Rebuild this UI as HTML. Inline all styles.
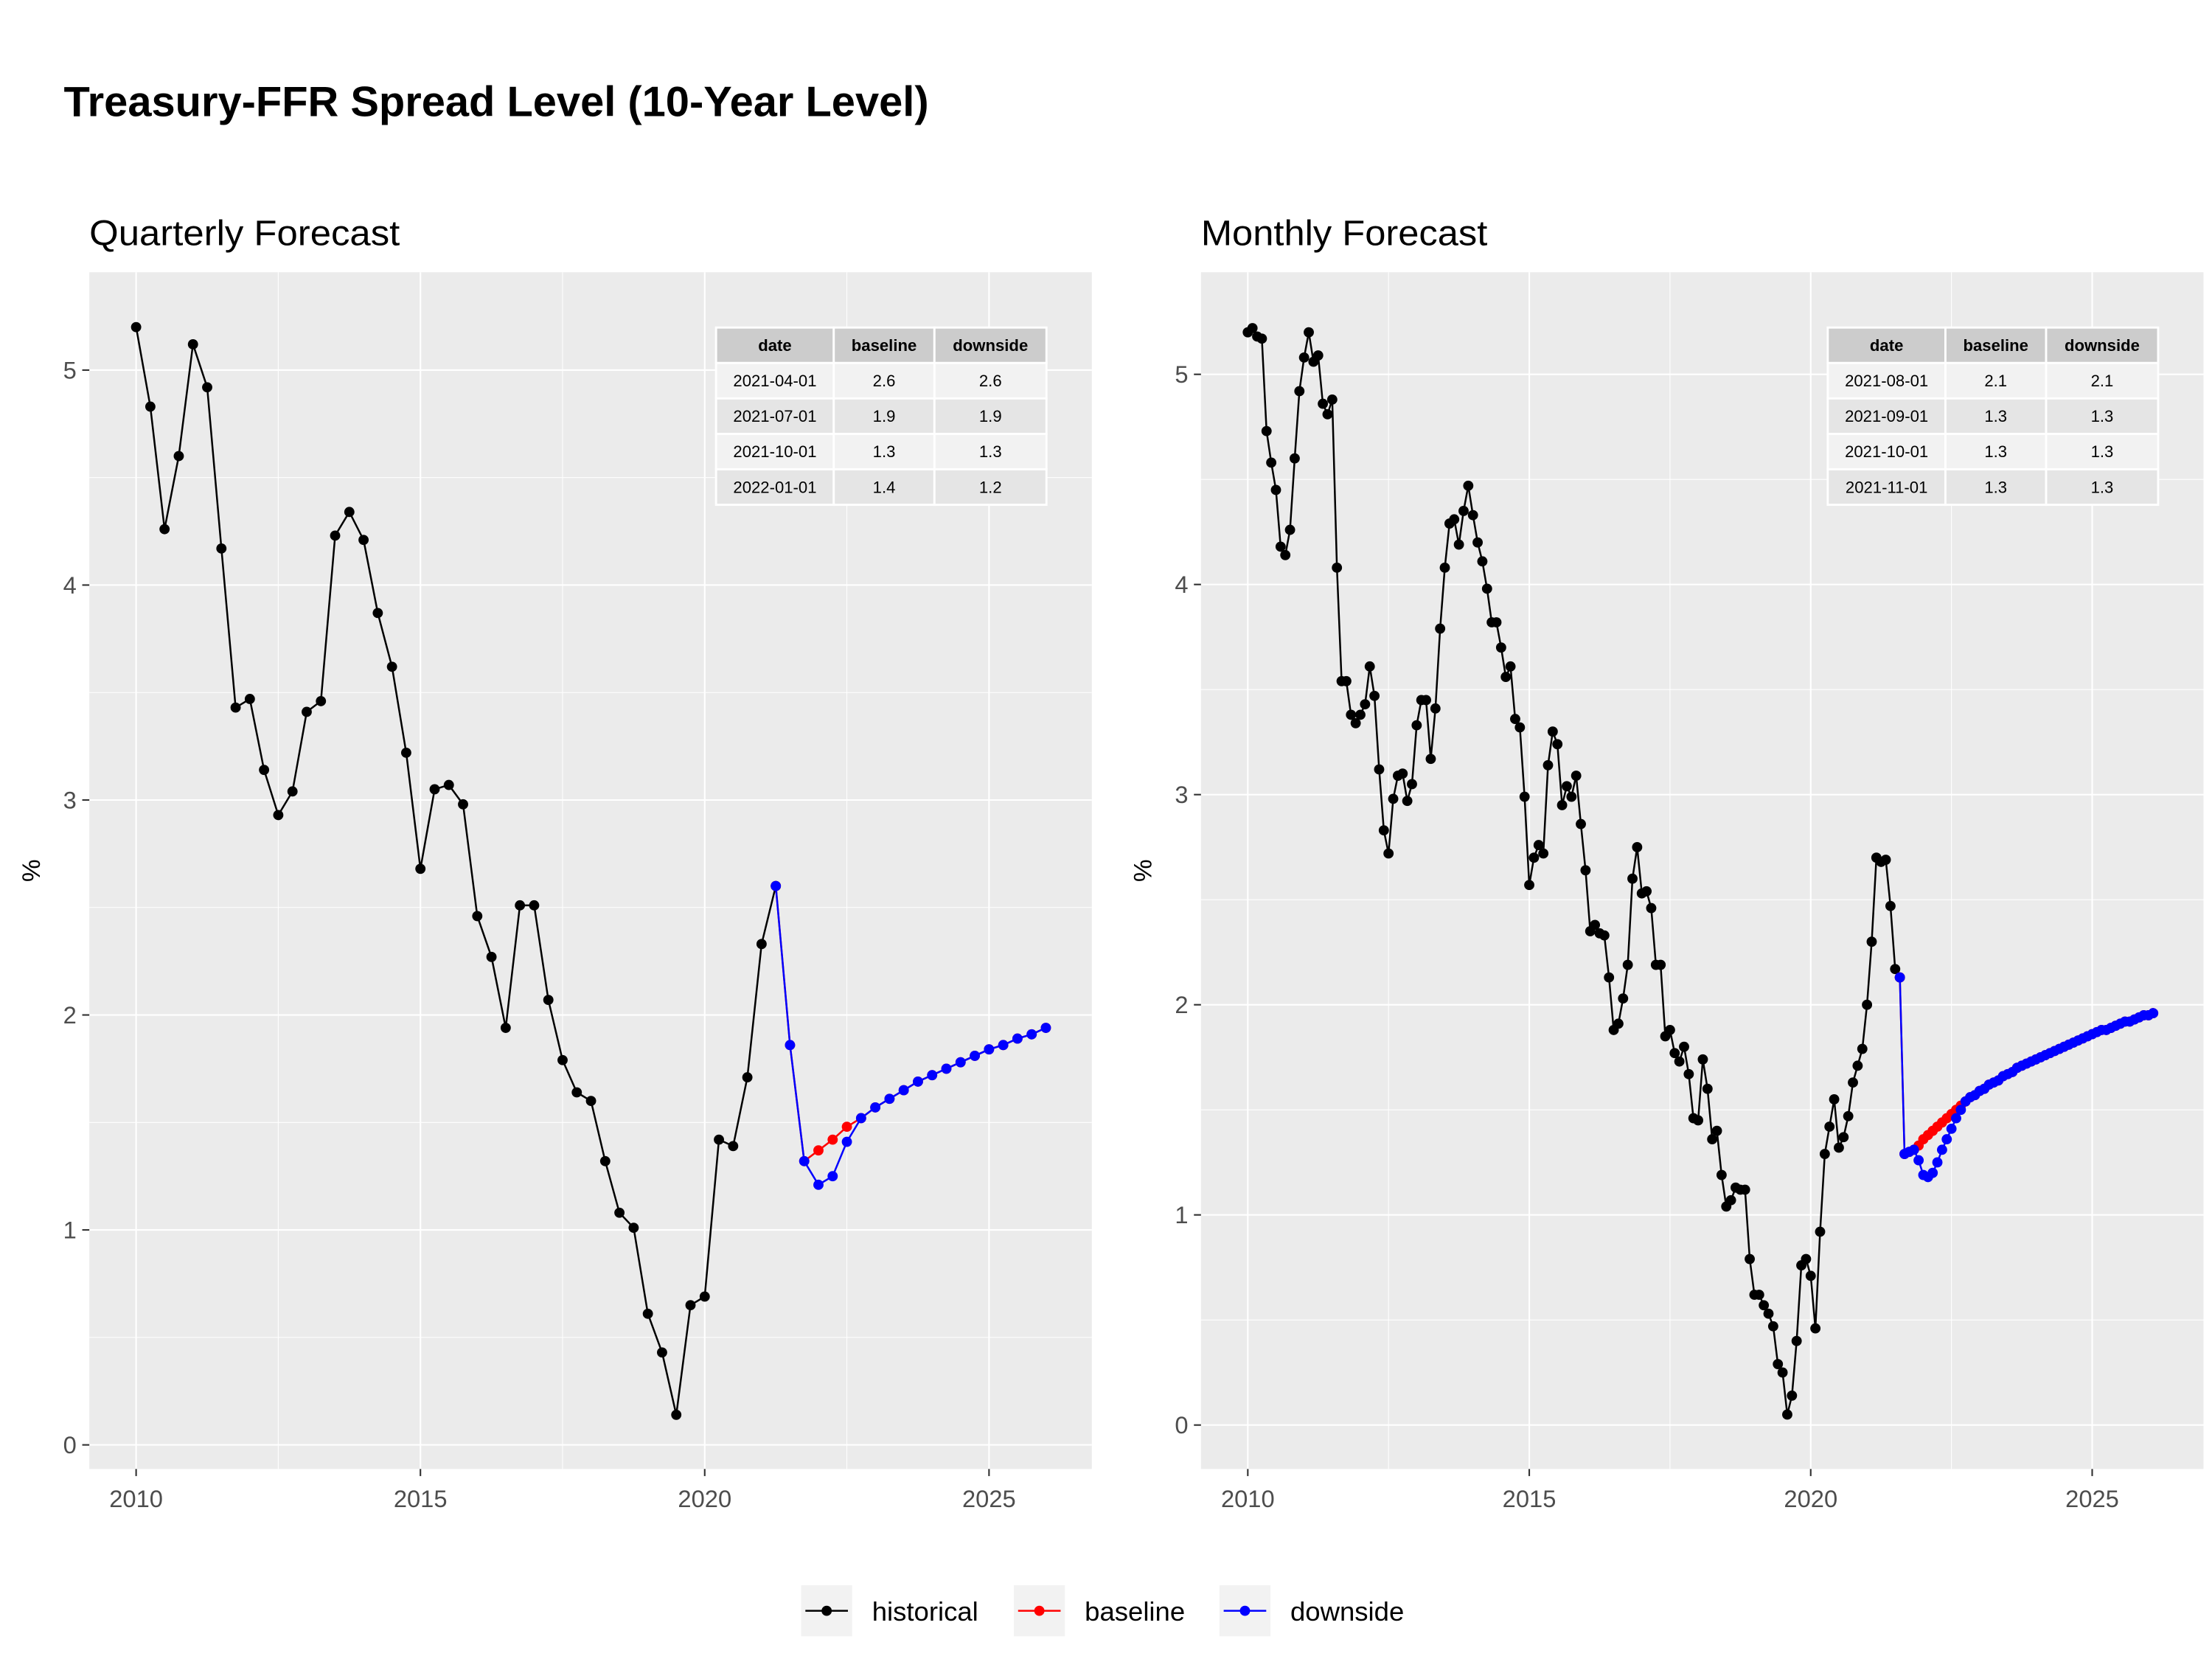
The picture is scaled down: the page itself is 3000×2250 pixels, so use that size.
<!DOCTYPE html>
<html><head><meta charset="utf-8">
<style>
html,body{margin:0;padding:0;background:#fff;}
svg{display:block;font-family:"Liberation Sans",Arial,sans-serif;}
</style></head>
<body>
<svg id="chart" width="3000" height="2250" viewBox="0 0 1560 1170" xmlns="http://www.w3.org/2000/svg">
<rect width="1560" height="1170" fill="#fff"/>
<text x="45" y="82" font-size="30" font-weight="bold" fill="#000" textLength="610" lengthAdjust="spacingAndGlyphs">Treasury-FFR Spread Level (10-Year Level)</text>
<g id="legend"></g>
</svg>
<script>
// ---------- data ----------
const qHistStart = 2010.0;
const qHistorical = [5.20,4.83,4.26,4.60,5.12,4.92,4.17,3.43,3.47,3.14,2.93,3.04,3.41,3.46,4.23,4.34,4.21,3.87,3.62,3.22,2.68,3.05,3.07,2.98,2.46,2.27,1.94,2.51,2.51,2.07,1.79,1.64,1.60,1.32,1.08,1.01,0.61,0.43,0.14,0.65,0.69,1.42,1.39,1.71,2.33,2.60];
const qFcstStart = 2021.25;
const qBaseline = [2.60,1.86,1.32,1.37,1.42,1.48,1.52,1.57,1.61,1.65,1.69,1.72,1.75,1.78,1.81,1.84,1.86,1.89,1.91,1.94];
const qDownside = [2.60,1.86,1.32,1.21,1.25,1.41,1.52,1.57,1.61,1.65,1.69,1.72,1.75,1.78,1.81,1.84,1.86,1.89,1.91,1.94];
const qTableDates = ["2021-04-01","2021-07-01","2021-10-01","2022-01-01"];
const qTableBase = ["2.6","1.9","1.3","1.4"];
const qTableDown = ["2.6","1.9","1.3","1.2"];

const mHistStart = 2010.0;
const mHistorical = [
5.20,5.22,5.18,5.17,4.73,4.58,4.45,4.18,4.14,4.26,4.60,4.92,
5.08,5.20,5.06,5.09,4.86,4.81,4.88,4.08,3.54,3.54,3.38,3.34,
3.38,3.43,3.61,3.47,3.12,2.83,2.72,2.98,3.09,3.10,2.97,3.05,
3.33,3.45,3.45,3.17,3.41,3.79,4.08,4.29,4.31,4.19,4.35,4.47,
4.33,4.20,4.11,3.98,3.82,3.82,3.70,3.56,3.61,3.36,3.32,2.99,
2.57,2.70,2.76,2.72,3.14,3.30,3.24,2.95,3.04,2.99,3.09,2.86,
2.64,2.35,2.38,2.34,2.33,2.13,1.88,1.91,2.03,2.19,2.60,2.75,
2.53,2.54,2.46,2.19,2.19,1.85,1.88,1.77,1.73,1.80,1.67,1.46,
1.45,1.74,1.60,1.36,1.40,1.19,1.04,1.07,1.13,1.12,1.12,0.79,
0.62,0.62,0.57,0.53,0.47,0.29,0.25,0.05,0.14,0.40,0.76,0.79,
0.71,0.46,0.92,1.29,1.42,1.55,1.32,1.37,1.47,1.63,1.71,1.79,
2.00,2.30,2.70,2.68,2.69,2.47,2.17,2.13];
const mFcstStart = 2021 + 7/12;
const mBaseline = [2.13,1.29,1.30,1.31,1.33,1.36,1.38,1.40,1.42,1.44,1.46,1.48,1.50,1.52,1.54,1.56,1.57,
1.59,1.60,1.62,1.63,1.64,1.66,1.67,1.68,1.70,1.71,1.72,1.73,
1.74,1.75,1.76,1.77,1.78,1.79,1.80,1.81,1.82,1.83,1.84,1.85,
1.86,1.87,1.88,1.88,1.89,1.90,1.91,1.92,1.92,1.93,1.94,1.95,
1.95,1.96];
const mDownside = [2.13,1.29,1.30,1.31,1.26,1.19,1.18,1.20,1.25,1.31,1.36,1.41,1.46,1.50,1.54,1.56,1.57,
1.59,1.60,1.62,1.63,1.64,1.66,1.67,1.68,1.70,1.71,1.72,1.73,
1.74,1.75,1.76,1.77,1.78,1.79,1.80,1.81,1.82,1.83,1.84,1.85,
1.86,1.87,1.88,1.88,1.89,1.90,1.91,1.92,1.92,1.93,1.94,1.95,
1.95,1.96];
const mTableDates = ["2021-08-01","2021-09-01","2021-10-01","2021-11-01"];
const mTableBase = ["2.1","1.3","1.3","1.3"];
const mTableDown = ["2.1","1.3","1.3","1.3"];

const xTicks = [2010,2015,2020,2025];
const yTicks = [0,1,2,3,4,5];
const legendLabels = ["historical","baseline","downside"];
const legendColors = ["#000000","#ff0000","#0000ff"];

// ---------- drawing ----------
const NS = "http://www.w3.org/2000/svg";
const svg = document.getElementById("chart");
function mk(tag, attrs, parent){
  const e = document.createElementNS(NS, tag);
  for (const k in attrs) e.setAttribute(k, attrs[k]);
  (parent||svg).appendChild(e);
  return e;
}

function panel(cfg){
  const g = mk("g", {});
  
  
  const sx = v => cfg.x0 + (v - 2010) * cfg.xpy;
  const sy = v => cfg.y0 - v * cfg.ypu;
  const st = mk("text", {x: cfg.L, y: 173, "font-size": 25, fill: "#000", textLength: cfg.titleLen, lengthAdjust: "spacingAndGlyphs"}, g);
  st.textContent = cfg.title;
  
  
  const bg = mk("rect", {x: cfg.L, y: 192, width: cfg.R - cfg.L, height: 844, fill: "#ebebeb"}, g);
  
  
  [0.5,1.5,2.5,3.5,4.5].forEach(v => mk("line", {x1: cfg.L, x2: cfg.R, y1: sy(v), y2: sy(v), stroke: "#fff", "stroke-width": 0.55}, g));
  [2012.5,2017.5,2022.5].forEach(v => mk("line", {x1: sx(v), x2: sx(v), y1: 192, y2: 1036, stroke: "#fff", "stroke-width": 0.55}, g));
  yTicks.forEach(v => {
    mk("line", {x1: cfg.L, x2: cfg.R, y1: sy(v), y2: sy(v), stroke: "#fff", "stroke-width": 1.1}, g);
    mk("line", {x1: cfg.L - 5, x2: cfg.L, y1: sy(v), y2: sy(v), stroke: "#333", "stroke-width": 1.1}, g);
    const t = mk("text", {x: cfg.L - 9, y: sy(v) + 6, "font-size": 17, fill: "#4d4d4d", "text-anchor": "end"}, g);
    t.textContent = v;
    
    
  });
  xTicks.forEach(v => {
    mk("line", {x1: sx(v), x2: sx(v), y1: 192, y2: 1036, stroke: "#fff", "stroke-width": 1.1}, g);
    mk("line", {x1: sx(v), x2: sx(v), y1: 1036, y2: 1041, stroke: "#333", "stroke-width": 1.1}, g);
    const t = mk("text", {x: sx(v), y: 1063, "font-size": 17, fill: "#4d4d4d", "text-anchor": "middle"}, g);
    t.textContent = v;
    
    
  });
  const yl = mk("text", {x: 0, y: 0, "font-size": 18, fill: "#000", "text-anchor": "middle", transform: `translate(${cfg.L - 35},614) rotate(-90)`}, g);
  yl.textContent = "%";
  
  

  function series(vals, start, step, color, name){
    const sg = mk("g", {}, g);
    
    
    const pts = vals.map((v,i) => [sx(start + i*step), sy(v)]);
    mk("polyline", {points: pts.map(p => p.join(",")).join(" "), fill: "none", stroke: color, "stroke-width": 1.3}, sg);
    pts.forEach(p => {
      const c = mk("circle", {cx: p[0], cy: p[1], r: cfg.r, fill: color}, sg);
      
      
    });
  }
  series(cfg.hist, cfg.hs, cfg.step, "#000000", "historical-series");
  series(cfg.base, cfg.fs, cfg.step, "#ff0000", "baseline-series");
  series(cfg.down, cfg.fs, cfg.step, "#0000ff", "downside-series");

  const tg = mk("g", {}, g);
  
  
  const cols = [cfg.tx, cfg.tx + 83, cfg.tx + 154, cfg.tx + 233];
  const hdr = ["date","baseline","downside"];
  const rows = cfg.tDates.map((d,i) => [d, cfg.tBase[i], cfg.tDown[i]]);
  const all = [hdr].concat(rows);
  all.forEach((row, ri) => {
    const y = 231 + ri * 25;
    const fill = ri === 0 ? "#cccccc" : (ri % 2 === 1 ? "#f2f2f2" : "#e5e5e5");
    row.forEach((cell, ci) => {
      mk("rect", {x: cols[ci], y: y, width: cols[ci+1] - cols[ci], height: 25, fill: fill, stroke: "#fff", "stroke-width": 1.5}, tg);
      const t = mk("text", {x: (cols[ci] + cols[ci+1]) / 2, y: y + 16.5, "font-size": 11.5, "text-anchor": "middle", fill: "#000", "font-weight": ri === 0 ? "bold" : "normal"}, tg);
      t.textContent = cell;
      
      
    });
  });
}

panel({name: "quarterly-panel", title: "Quarterly Forecast", titleLen: 219, L: 63, R: 770, x0: 96, xpy: 40.1, y0: 1019, ypu: 151.6,
  hist: qHistorical, hs: qHistStart, base: qBaseline, down: qDownside, fs: qFcstStart, step: 0.25, r: 3.6,
  tx: 505, tDates: qTableDates, tBase: qTableBase, tDown: qTableDown});
panel({name: "monthly-panel", title: "Monthly Forecast", titleLen: 202, L: 847, R: 1554, x0: 880, xpy: 39.7, y0: 1005, ypu: 148.2,
  hist: mHistorical, hs: mHistStart, base: mBaseline, down: mDownside, fs: mFcstStart, step: 1/12, r: 3.6,
  tx: 1289, tDates: mTableDates, tBase: mTableBase, tDown: mTableDown});

const lg = document.getElementById("legend");
const lx = [565, 715, 860];
legendLabels.forEach((lab, i) => {
  const eg = mk("g", {}, lg);
  
  
  mk("rect", {x: lx[i], y: 1118, width: 36, height: 36, fill: "#f2f2f2"}, eg);
  mk("line", {x1: lx[i] + 3, x2: lx[i] + 33, y1: 1136, y2: 1136, stroke: legendColors[i], "stroke-width": 1.3}, eg);
  mk("circle", {cx: lx[i] + 18, cy: 1136, r: 3.6, fill: legendColors[i]}, eg);
  const t = mk("text", {x: lx[i] + 50, y: 1143, "font-size": 19, fill: "#000"}, eg);
  t.textContent = lab;
  
  
});
</script>
</body></html>
